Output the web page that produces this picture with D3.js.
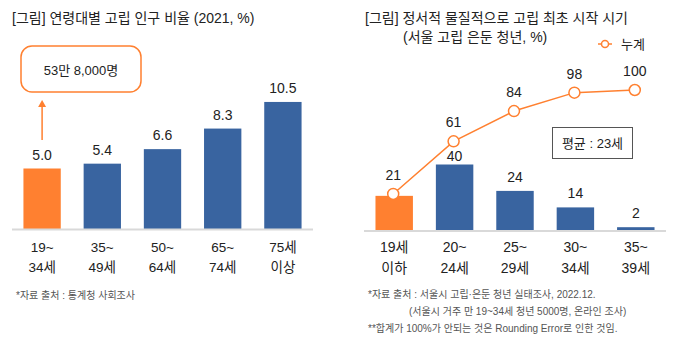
<!DOCTYPE html>
<html>
<head>
<meta charset="utf-8">
<script src="https://cdn.jsdelivr.net/npm/d3@7"></script>
<style>
  html, body { margin: 0; padding: 0; background: #fff; }
  svg { display: block; font-family: "Liberation Sans", "Noto Sans CJK KR", sans-serif; }
</style>
</head>
<body>
<svg id="chart" width="682" height="342"></svg>
<script>
// Left panel: share of isolated population by age group (2021, %)
const ageGroups = [["19~", "34세"], ["35~", "49세"], ["50~", "64세"], ["65~", "74세"], ["75세", "이상"]];
const isolationRate = [5.0, 5.4, 6.6, 8.3, 10.5];
const headcountNote = "53만 8,000명";

// Right panel: first onset of isolation, Seoul isolated/reclusive youth (%)
const onsetGroups = [["19세", "이하"], ["20~", "24세"], ["25~", "29세"], ["30~", "34세"], ["35~", "39세"]];
const onsetShare = [21, 40, 24, 14, 2];
const cumulativeShare = [21, 61, 84, 98, 100];
const averageNote = "평균 : 23세";

const ORANGE = "#ff8030";
const BLUE = "#3964a0";
const svg = d3.select("#chart");

// ---------- left panel ----------
const left = svg.append("g");
const xL = d3.scaleBand().domain(d3.range(ageGroups.length)).range([12, 313]).paddingInner(0.38).paddingOuter(0.19);
const yL = d3.scaleLinear().domain([0, 12]).range([229, 229 - 12 * 12.1]);

left.append("text").attr("x", 12).attr("y", 23).attr("font-size", 14).attr("fill", "#222")
  .text("[그림] 연령대별 고립 인구 비율 (2021, %)");

left.selectAll("rect.bar").data(isolationRate).join("rect")
  .attr("class", "bar")
  .attr("x", (d, i) => xL(i)).attr("width", xL.bandwidth())
  .attr("y", d => yL(d)).attr("height", d => yL(0) - yL(d))
  .attr("fill", (d, i) => i === 0 ? ORANGE : BLUE);

left.selectAll("text.val").data(isolationRate).join("text")
  .attr("class", "val")
  .attr("x", (d, i) => xL(i) + xL.bandwidth() / 2).attr("y", d => yL(d) - 9)
  .attr("text-anchor", "middle").attr("font-size", 14).attr("fill", "#222")
  .text(d => d.toFixed(1));

left.append("line").attr("x1", 12).attr("x2", 313).attr("y1", 229.5).attr("y2", 229.5)
  .attr("stroke", "#d9d9d9").attr("stroke-width", 2);

const xlL = left.selectAll("g.xl").data(ageGroups).join("g").attr("class", "xl")
  .attr("transform", (d, i) => `translate(${xL(i) + xL.bandwidth() / 2},0)`);
xlL.selectAll("text").data(d => d).join("text")
  .attr("x", 0).attr("y", (d, j) => 252 + j * 20)
  .attr("text-anchor", "middle").attr("font-size", 13.5).attr("fill", "#222").text(d => d);

left.append("text").attr("x", 16).attr("y", 299).attr("font-size", 10).attr("fill", "#555")
  .text("*자료 출처 : 통계청 사회조사");

// callout box + arrow pointing from the first bar
left.append("rect").attr("x", 21).attr("y", 46).attr("width", 120).attr("height", 46)
  .attr("rx", 11).attr("fill", "#fff").attr("stroke", ORANGE).attr("stroke-width", 1.5);
left.append("text").attr("x", 81).attr("y", 75).attr("text-anchor", "middle")
  .attr("font-size", 13).attr("fill", "#222").text(headcountNote);
const ax = xL(0) + xL.bandwidth() / 2;
left.append("line").attr("x1", ax).attr("x2", ax).attr("y1", 140).attr("y2", 106)
  .attr("stroke", ORANGE).attr("stroke-width", 1.5);
left.append("path").attr("d", `M${ax - 4},${107} L${ax},${100} L${ax + 4},${107} Z`).attr("fill", ORANGE);

// ---------- right panel ----------
const right = svg.append("g");
const xR = d3.scaleBand().domain(d3.range(onsetGroups.length)).range([364, 666]).paddingInner(0.38).paddingOuter(0.19);
const yR = d3.scaleLinear().domain([0, 40]).range([230.5, 164.5]);
const yC = d3.scaleLinear().domain([0, 100]).range([221.6, 90]);

right.append("text").attr("x", 365).attr("y", 23).attr("font-size", 14).attr("fill", "#222")
  .text("[그림] 정서적 물질적으로 고립 최초 시작 시기");
right.append("text").attr("x", 403).attr("y", 42).attr("font-size", 14).attr("fill", "#222")
  .text("(서울 고립 은둔 청년, %)");

// legend
right.append("line").attr("x1", 598).attr("x2", 612).attr("y1", 44).attr("y2", 44)
  .attr("stroke", ORANGE).attr("stroke-width", 1.5);
right.append("circle").attr("cx", 605).attr("cy", 44).attr("r", 3.5)
  .attr("fill", "#fff").attr("stroke", ORANGE).attr("stroke-width", 1.5);
right.append("text").attr("x", 621).attr("y", 49).attr("font-size", 13).attr("fill", "#222").text("누계");

right.selectAll("rect.bar").data(onsetShare).join("rect")
  .attr("class", "bar")
  .attr("x", (d, i) => xR(i)).attr("width", xR.bandwidth())
  .attr("y", d => yR(d)).attr("height", d => yR(0) - yR(d))
  .attr("fill", (d, i) => i === 0 ? ORANGE : BLUE);

// bar labels (the first bar shares its value with the cumulative point)
right.selectAll("text.val").data(onsetShare.map((v, i) => ({ v, i })).filter(d => d.i > 0)).join("text")
  .attr("class", "val")
  .attr("x", d => xR(d.i) + xR.bandwidth() / 2)
  .attr("y", d => yR(d.v) - (d.i === 1 ? 4 : 9))
  .attr("text-anchor", "middle").attr("font-size", 14).attr("fill", "#222")
  .text(d => d.v);

right.append("line").attr("x1", 364).attr("x2", 666).attr("y1", 231).attr("y2", 231)
  .attr("stroke", "#d9d9d9").attr("stroke-width", 2);

// cumulative line
const cx = i => xR(i) + xR.bandwidth() / 2 - 1;
right.append("path").datum(cumulativeShare)
  .attr("d", d3.line().x((d, i) => cx(i)).y(d => yC(d)))
  .attr("fill", "none").attr("stroke", ORANGE).attr("stroke-width", 1.5);
right.selectAll("circle.pt").data(cumulativeShare).join("circle")
  .attr("class", "pt").attr("cx", (d, i) => cx(i)).attr("cy", d => yC(d)).attr("r", 5.5)
  .attr("fill", "#fff").attr("stroke", ORANGE).attr("stroke-width", 1.5);
right.selectAll("text.cum").data(cumulativeShare).join("text")
  .attr("class", "cum").attr("x", (d, i) => cx(i)).attr("y", d => yC(d) - 14)
  .attr("text-anchor", "middle").attr("font-size", 14).attr("fill", "#222").text(d => d);

const xlR = right.selectAll("g.xl").data(onsetGroups).join("g").attr("class", "xl")
  .attr("transform", (d, i) => `translate(${xR(i) + xR.bandwidth() / 2},0)`);
xlR.selectAll("text").data(d => d).join("text")
  .attr("x", 0).attr("y", (d, j) => 252 + j * 21)
  .attr("text-anchor", "middle").attr("font-size", 14).attr("fill", "#222").text(d => d);

// average box
right.append("rect").attr("x", 552.5).attr("y", 127.5).attr("width", 80).attr("height", 31)
  .attr("fill", "#fff").attr("stroke", "#555").attr("stroke-width", 1);
right.append("text").attr("x", 592.5).attr("y", 148).attr("text-anchor", "middle")
  .attr("font-size", 13).attr("fill", "#222").text(averageNote);

// footnotes
const notes = right.append("g").attr("font-size", 10).attr("fill", "#555");
notes.append("text").attr("x", 368).attr("y", 298).text("*자료 출처 : 서울시 고립·은둔 청년 실태조사, 2022.12.");
notes.append("text").attr("x", 409).attr("y", 315).text("(서울시 거주 만 19~34세 청년 5000명, 온라인 조사)");
notes.append("text").attr("x", 368).attr("y", 332).text("**합계가 100%가 안되는 것은 Rounding Error로 인한 것임.");
</script>
</body>
</html>
